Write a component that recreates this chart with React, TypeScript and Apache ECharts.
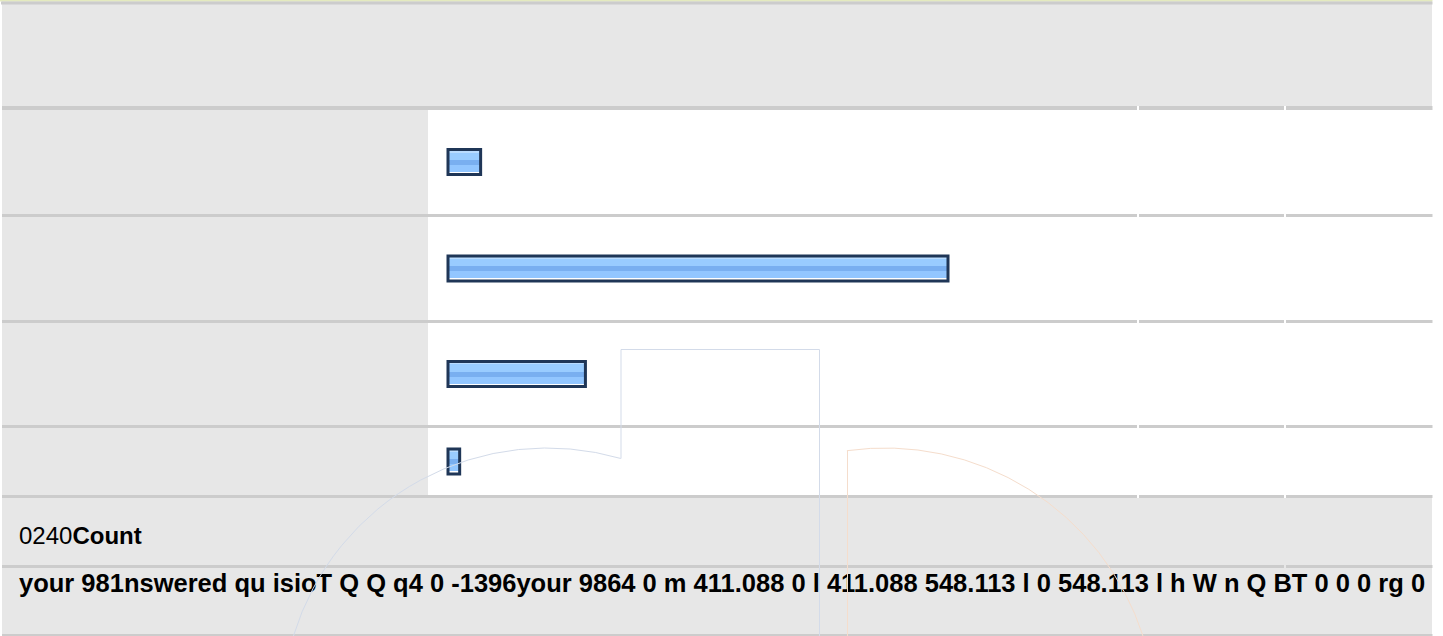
import React, { useEffect, useRef } from "react";
import * as echarts from "echarts";

// ---- data ----
const categories = ["Response 1", "Response 2", "Response 3", "Response 4"];
const counts = [17, 240, 67, 7];
const tickLabels = ["0", "240"];
const axisTitle = "Count";
const footerText =
  "your 981nswered qu isioT Q Q q4 0 -1396your 9864 0 m 411.088 0 l 411.088 548.113 l 0 548.113 l h W n Q BT 0 0 0 rg 0";

// ---- layout ----
const W = 1443;
const H = 636;
const rowCenters = [162, 268.5, 374, 461.5];
const plotLeft = 446.5;
const plotWidth = 503;
const GRAY = "#e7e7e7";
const SEP = "#cccccc";
const FONT = "'Liberation Sans', Arial, Helvetica, sans-serif";

const barFill = new echarts.graphic.LinearGradient(0, 0, 0, 1, [
  { offset: 0, color: "#b9dcff" },
  { offset: 0.12, color: "#b9dcff" },
  { offset: 0.12, color: "#99ccff" },
  { offset: 0.42, color: "#99ccff" },
  { offset: 0.42, color: "#79aff0" },
  { offset: 0.62, color: "#79aff0" },
  { offset: 0.62, color: "#92c6ff" },
  { offset: 0.9, color: "#92c6ff" },
  { offset: 0.9, color: "#ffffff" },
  { offset: 1, color: "#ffffff" },
]);

function separator(y: number, h: number, gaps: number[][]): any[] {
  const out: any[] = [];
  let x0 = 2;
  const segs: number[][] = [];
  for (const g of gaps) {
    segs.push([x0, g[0]]);
    x0 = g[1];
  }
  segs.push([x0, 1433]);
  for (const s of segs) {
    out.push({
      type: "rect",
      z: 5,
      silent: true,
      shape: { x: s[0], y, width: s[1] - s[0], height: h },
      style: { fill: SEP },
    });
  }
  return out;
}

export default function App() {
  const ref = useRef<HTMLDivElement>(null);

  useEffect(() => {
    if (!ref.current) return;
    const chart = echarts.init(ref.current, undefined, { renderer: "svg" });

    const grids = categories.map((_, i) => ({
      left: plotLeft,
      width: plotWidth,
      top: rowCenters[i] - 20,
      height: 40,
      containLabel: false,
    }));
    const xAxes = categories.map((_, i) => ({
      type: "value",
      gridIndex: i,
      min: 0,
      max: Math.max(...counts),
      show: false,
    }));
    const yAxes = categories.map((c, i) => ({
      type: "category",
      gridIndex: i,
      data: [c],
      show: false,
    }));
    const series = categories.map((c, i) => ({
      type: "bar",
      name: c,
      xAxisIndex: i,
      yAxisIndex: i,
      data: [counts[i]],
      barWidth: 28,
      z: 6,
      itemStyle: {
        color: barFill,
        borderColor: "#1f3657",
        borderWidth: 3,
      },
    }));

    const gaps = [
      [1137, 1139],
      [1284, 1286],
    ];

    const graphic: any[] = [
      // page background
      { type: "rect", z: 0, silent: true, shape: { x: 2, y: 0, width: 1430, height: H }, style: { fill: GRAY } },
      // top lines
      { type: "rect", z: 1, silent: true, shape: { x: 0, y: 0, width: 1433, height: 1.5 }, style: { fill: "#e4eabf" } },
      { type: "rect", z: 1, silent: true, shape: { x: 1, y: 1.5, width: 1432, height: 3 }, style: { fill: SEP } },
      // white plot rows
      { type: "rect", z: 1, silent: true, shape: { x: 428, y: 106, width: 1004, height: 392 }, style: { fill: "#ffffff" } },
      ...separator(106, 4, gaps),
      ...separator(214, 3, gaps),
      ...separator(320, 3, gaps),
      ...separator(425, 3, gaps),
      ...separator(495, 3, gaps),
      ...separator(565, 3, [[1284, 1286]]),
      { type: "rect", z: 5, silent: true, shape: { x: 2, y: 634, width: 1431, height: 2 }, style: { fill: SEP } },
      // texts
      {
        type: "text",
        z: 10,
        silent: true,
        style: {
          x: 19,
          y: 535,
          text: `{n|${tickLabels.join("")}}{b|${axisTitle}}`,
          verticalAlign: "middle",
          rich: {
            n: { fontSize: 24, fontFamily: FONT, fontWeight: "normal", fill: "#000" },
            b: { fontSize: 24, fontFamily: FONT, fontWeight: "bold", fill: "#000" },
          },
        },
      },
      {
        type: "text",
        z: 10,
        silent: true,
        style: {
          x: 19,
          y: 583,
          text: footerText,
          fontSize: 25.5,
          fontFamily: FONT,
          fontWeight: "bold",
          fill: "#000",
          verticalAlign: "middle",
        },
      },
      // decorative outlines
      {
        type: "arc",
        z: 11,
        silent: true,
        shape: { cx: 547, cy: 713, r: 265, startAngle: -2.847, endAngle: -1.2886, clockwise: true },
        style: { stroke: "#d3dbe9", lineWidth: 1, fill: null },
      },
      {
        type: "polyline",
        z: 11,
        silent: true,
        shape: { points: [[621, 458.5], [621, 349.5], [819.5, 349.5], [819.5, 636]] },
        style: { stroke: "#d3dbe9", lineWidth: 1, fill: null },
      },
      {
        type: "polyline",
        z: 11,
        silent: true,
        shape: { points: [[847.5, 636], [847.5, 451]] },
        style: { stroke: "#f5ddcc", lineWidth: 1, fill: null },
      },
      {
        type: "arc",
        z: 11,
        silent: true,
        shape: { cx: 885, cy: 719, r: 271, startAngle: -1.7117, endAngle: -0.3114, clockwise: true },
        style: { stroke: "#f5ddcc", lineWidth: 1, fill: null },
      },
      // right white margin (clips the long footer text)
      { type: "rect", z: 20, silent: true, shape: { x: 1432.5, y: 0, width: 11, height: H }, style: { fill: "#ffffff" } },
    ];

    chart.setOption({
      animation: false,
      backgroundColor: "#ffffff",
      grid: grids,
      xAxis: xAxes,
      yAxis: yAxes,
      series,
      graphic,
    });

    return () => chart.dispose();
  }, []);

  return (
    <div
      ref={ref}
      style={{ position: "fixed", left: 0, top: 0, width: W, height: H }}
    />
  );
}
